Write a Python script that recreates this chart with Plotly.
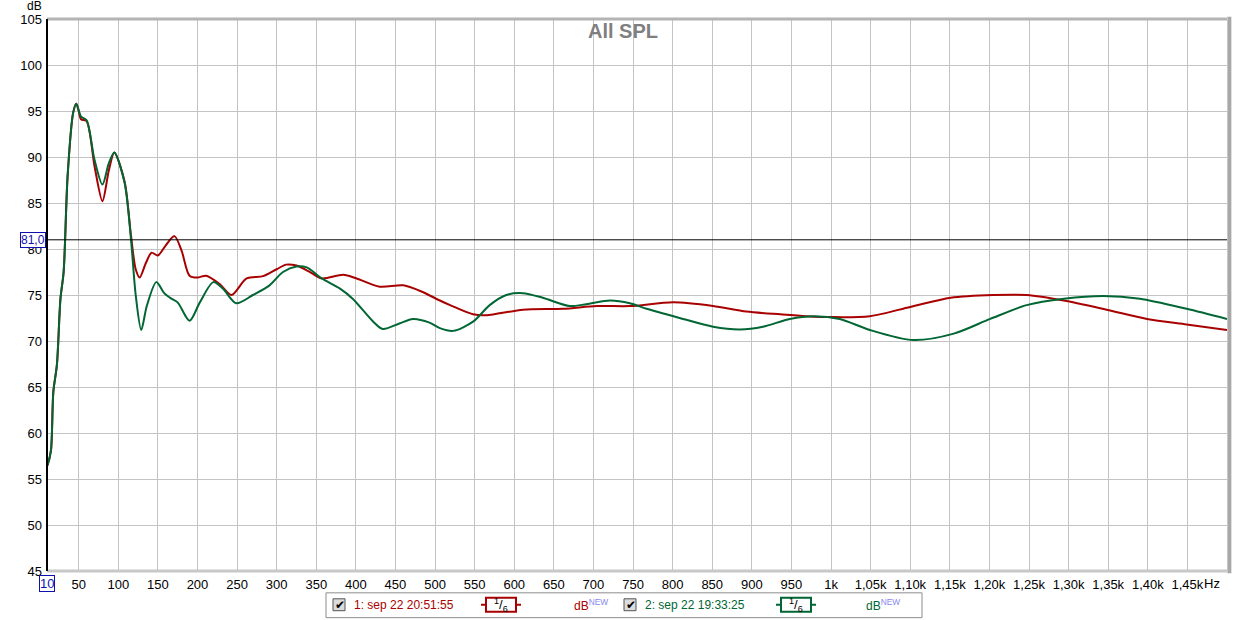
import plotly.graph_objects as go

# ---------------- data ----------------
red_freq = [10, 11, 15, 18, 22.5, 27, 31, 36, 43, 47, 50, 53, 60, 70, 80, 88, 95, 108, 116, 122, 127,
            135, 142, 150, 160, 171, 180, 190, 200, 211, 228, 243, 262, 283, 300, 312, 325, 340,
            357, 384, 401, 430, 460, 485, 506, 519, 548, 565, 611, 662, 704, 746, 801, 851, 893,
            936, 969, 1000, 1049, 1100, 1151, 1205, 1247, 1294, 1348, 1399, 1449, 1500]
red_db = [56.4, 56.6, 58.1, 64.5, 67.4, 74.6, 77.5, 87.9, 94.8, 95.8, 95.0, 94.1, 93.9, 89.0, 85.2, 88.5,
          90.5, 87.3, 81.5, 77.8, 76.9, 78.5, 79.6, 79.3, 80.4, 81.4, 79.8, 77.1, 76.9, 77.1, 76.2,
          75.0, 76.8, 77.05, 77.8, 78.3, 78.2, 77.6, 76.8, 77.2, 76.8, 75.9, 76.05, 75.3, 74.4, 73.9,
          72.9, 72.8, 73.4, 73.5, 73.8, 73.8, 74.2, 73.8, 73.2, 72.9, 72.7, 72.6, 72.7, 73.7, 74.7,
          75.0, 75.0, 74.4, 73.4, 72.4, 71.8, 71.2]

green_freq = [10, 11, 15, 18, 22.5, 27, 31, 36, 43, 47, 53, 60, 70, 80, 88, 95, 108, 116, 122, 129,
              136, 148, 158, 167, 175, 190, 203, 220, 232, 249, 270, 291, 308, 325, 338, 357, 380,
              396, 422, 434, 455, 472, 493, 506, 523, 548, 569, 590, 611, 636, 670, 691, 721, 746,
              767, 809, 851, 885, 914, 948, 978, 1011, 1049, 1104, 1155, 1201, 1247, 1294, 1344,
              1390, 1449, 1500]
green_db = [56.4, 56.6, 58.1, 64.5, 67.4, 74.6, 77.5, 87.9, 94.8, 95.8, 94.4, 94.0, 89.7, 87.0, 89.3,
            90.5, 87.2, 81.1, 75.0, 71.2, 73.8, 76.4, 75.2, 74.6, 74.2, 72.2, 74.2, 76.4, 75.7, 74.1,
            75.0, 76.05, 77.5, 78.1, 78.0, 76.8, 75.7, 74.6, 72.1, 71.3, 71.9, 72.4, 72.0, 71.4, 71.1,
            72.1, 73.9, 75.0, 75.2, 74.7, 73.8, 74.0, 74.4, 74.1, 73.5, 72.5, 71.55, 71.25, 71.55,
            72.4, 72.7, 72.4, 71.2, 70.1, 70.8, 72.4, 73.9, 74.6, 74.9, 74.6, 73.5, 72.4]

x_tick_vals = [10, 50, 100, 150, 200, 250, 300, 350, 400, 450, 500, 550, 600, 650, 700, 750, 800,
               850, 900, 950, 1000, 1050, 1100, 1150, 1200, 1250, 1300, 1350, 1400, 1450]
x_tick_text = ["", "50", "100", "150", "200", "250", "300", "350", "400", "450", "500", "550", "600",
               "650", "700", "750", "800", "850", "900", "950", "1k", "1,05k", "1,10k", "1,15k",
               "1,20k", "1,25k", "1,30k", "1,35k", "1,40k", "1,45k"]
y_tick_vals = [45, 50, 55, 60, 65, 70, 75, 80, 85, 90, 95, 100, 105]
marker_level = 81.0

series_names = ["1: sep 22 20:51:55", "2: sep 22 19:33:25"]
RED = "#a80000"
GREEN = "#006633"

# ---------------- layout geometry ----------------
W, H = 1249, 620
L, R, T, B = 47, 1227, 15, 571


def px(x):
    return (x - L) / (R - L)


def py(y):
    return (B - y) / (B - T)


fig = go.Figure()
fig.add_trace(go.Scatter(x=red_freq, y=red_db, mode="lines", name=series_names[0],
                         line=dict(color=RED, width=2, shape="spline", smoothing=0.8)))
fig.add_trace(go.Scatter(x=green_freq, y=green_db, mode="lines", name=series_names[1],
                         line=dict(color=GREEN, width=2, shape="spline", smoothing=0.8)))

FAM = "Liberation Sans, Arial, sans-serif"
font = dict(family=FAM, size=13, color="#000000")

fig.update_layout(
    width=W, height=H,
    margin=dict(l=L, r=W - R, t=T, b=H - B, pad=0),
    paper_bgcolor="white", plot_bgcolor="white",
    showlegend=False,
    font=font,
    xaxis=dict(range=[10, 1500], tickvals=x_tick_vals, ticktext=x_tick_text,
               showgrid=True, gridcolor="#c4c4c4", gridwidth=1, zeroline=False,
               showline=False, ticks="", tickfont=font, fixedrange=True,
               ticklabelstandoff=4),
    yaxis=dict(range=[45, 105], tickvals=y_tick_vals, showgrid=True, gridcolor="#c4c4c4",
               gridwidth=1, zeroline=False, showline=False, ticks="", tickfont=font,
               fixedrange=True, ticklabelstandoff=4),
)

shapes = []
# frame: shadowed gray top, right, bottom; black left axis
shapes.append(dict(type="line", xref="paper", yref="paper", x0=0, x1=1, y0=1, y1=1,
                   line=dict(color="#b4b4b4", width=3), layer="above"))
shapes.append(dict(type="line", xref="paper", yref="paper", x0=0, x1=1, y0=0, y1=0,
                   line=dict(color="#c8c8c8", width=3), layer="above"))
shapes.append(dict(type="line", xref="paper", yref="paper", x0=1.002, x1=1.002, y0=-0.004, y1=1.004,
                   line=dict(color="#a8a8a8", width=4), layer="above"))
shapes.append(dict(type="line", xref="paper", yref="paper", x0=0, x1=0, y0=0, y1=1,
                   line=dict(color="#000000", width=2), layer="above"))
# marker level line
shapes.append(dict(type="line", xref="paper", yref="y", x0=0, x1=1, y0=marker_level, y1=marker_level,
                   line=dict(color="#000000", width=1), layer="above"))

annotations = []


def ann(text, x, y, xanchor="center", yanchor="middle", fnt=None, xref="paper", yref="paper", **kw):
    annotations.append(dict(text=text, x=x, y=y, xref=xref, yref=yref, xanchor=xanchor,
                            yanchor=yanchor, showarrow=False, font=fnt or font, **kw))


ann("<b>All SPL</b>", px(623), py(27), fnt=dict(family=FAM, size=20, color="#7f7f7f"))
ann("dB", px(34), py(2), fnt=dict(family=FAM, size=12, color="#000000"))
ann("81,0", px(46), marker_level, xanchor="right", yref="y",
    fnt=dict(family=FAM, size=12, color="#1010b0"),
    bordercolor="#1010b0", borderwidth=1, borderpad=0, bgcolor="white")
ann("10", 10, py(584), xref="x", fnt=dict(family=FAM, size=13, color="#1010b0"),
    bordercolor="#1010b0", borderwidth=1, borderpad=0, bgcolor="white")
ann("Hz", 1450, py(584), xref="x", xanchor="left", xshift=15, fnt=font)

# legend box
shapes.append(dict(type="path", xref="paper", yref="paper",
                   path="M {a},{b} L {c},{b} L {c},{d} L {a},{d} Z".format(
                       a=px(326), b=py(593), c=px(922), d=py(618)),
                   line=dict(color="#8c8c8c", width=1), fillcolor="white"))


def legend_entry(x0, name, color, frac_x, db_x):
    # checkbox
    shapes.append(dict(type="rect", xref="paper", yref="paper", x0=px(x0), x1=px(x0 + 12),
                       y0=py(611), y1=py(599), line=dict(color="#555555", width=1),
                       fillcolor="#dcdcdc"))
    ann("✔", px(x0 + 6.5), py(605), fnt=dict(family="DejaVu Sans", size=12, color="#000000"))
    ann(name, px(x0 + 19), py(605), xanchor="left", fnt=dict(family=FAM, size=12, color=color))
    # smoothing badge
    shapes.append(dict(type="line", xref="paper", yref="paper", x0=px(frac_x - 5),
                       x1=px(frac_x + 35), y0=py(605), y1=py(605),
                       line=dict(color=color, width=2)))
    shapes.append(dict(type="rect", xref="paper", yref="paper", x0=px(frac_x), x1=px(frac_x + 30),
                       y0=py(612), y1=py(598), line=dict(color=color, width=2),
                       fillcolor="white"))
    ann("<sup>1</sup>/<sub>6</sub>", px(frac_x + 15), py(605),
        fnt=dict(family=FAM, size=13, color="#000000"))
    ann("dB<sup><span style='color:#8888ee'>NEW</span></sup>", px(db_x), py(605),
        xanchor="left", fnt=dict(family=FAM, size=12, color=color))


legend_entry(333, series_names[0], RED, 486, 572)
legend_entry(624, series_names[1], GREEN, 781, 864)

fig.update_layout(shapes=shapes, annotations=annotations)
fig.write_html("out.html")
